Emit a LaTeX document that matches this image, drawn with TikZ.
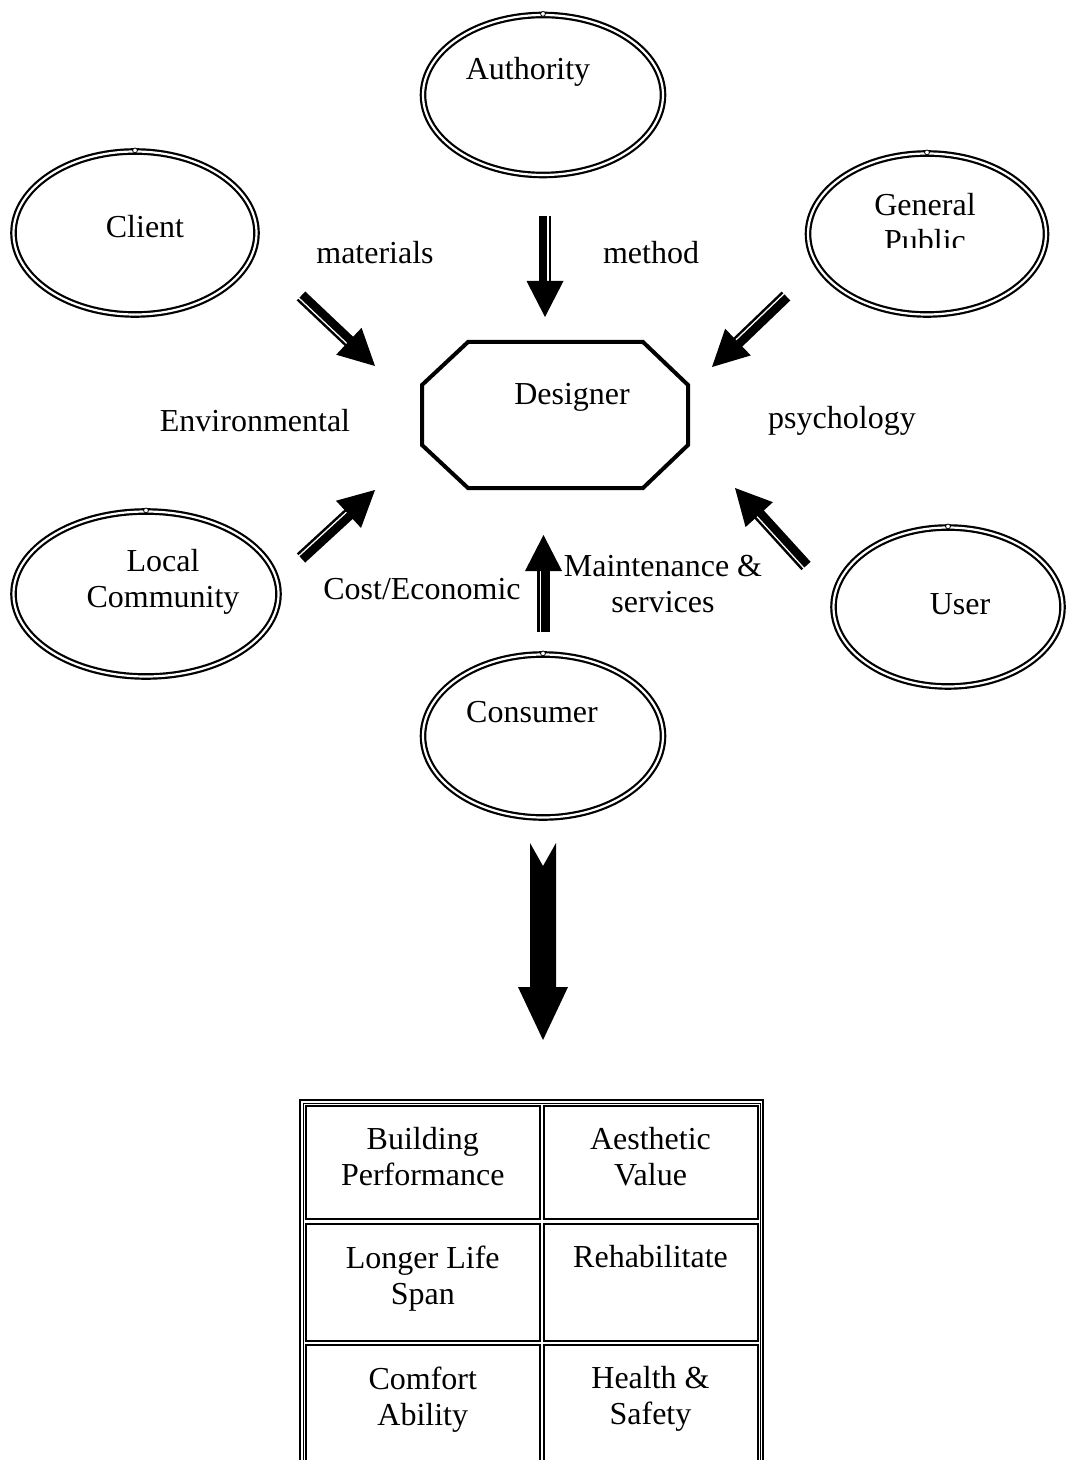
\documentclass[tikz,border=0pt]{standalone}
\usepackage{fontspec}
\setmainfont{Liberation Serif}
\usetikzlibrary{calc,positioning,shapes.geometric}

% shaft of a thick and a thin line, filled triangle head
% #3: side of the thin line, #4: side of the thick line
\newcommand{\dblarrow}[4]{%
  \coordinate (h) at ($(#2)!18pt!(#1)$);
  \coordinate (c) at ($(#2)!16pt!(#1)$);
  \draw[line width=4.2pt] ($(#1)!1pt!#4:(#2)$) -- ($(c)!1pt!#3:(#1)$);
  \draw[line width=1.2pt] ($(#1)!2.5pt!#3:(#2)$) -- ($(c)!2.5pt!#4:(#1)$);
  \fill (#2) -- ($(h)!9.25pt!90:(#2)$) -- ($(h)!9.25pt!-90:(#2)$) -- cycle;}

\begin{document}
\begin{tikzpicture}[x=0.5pt,y=-0.5pt,
	every node/.style={font=\fontsize{16}{18}\selectfont, align=center},
	ell/.style={ellipse, draw, double, line width=1.1pt, double distance=1.1pt, inner sep=0pt},
	cell/.style={draw, line width=1pt, inner sep=0pt}]
	\useasboundingbox (0,0) rectangle (1066,1460);

	% stakeholders
	\node[ell, minimum width=120pt, minimum height=80pt] (authority) at (543,95) {};
	\node[ell, minimum width=121.5pt, minimum height=81.5pt] (client) at (135,233) {};
	\node[ell, minimum width=119pt, minimum height=80.5pt] (public) at (927,234) {};
	\node[ell, minimum width=132.5pt, minimum height=82.5pt] (local) at (146,594) {};
	\node[ell, minimum width=114.5pt, minimum height=79.5pt] (user) at (948,607) {};
	\node[ell, minimum width=120pt, minimum height=81.5pt] (consumer) at (543,736) {};
	\foreach \n in {authority,client,public,local,user,consumer}
		\draw[fill=white, line width=0.4pt] (\n.north) circle (1.2pt);

	\node (authority-t) at (528,72) {Authority};
	\node (client-t) at (145,227) {Client};
	\begin{scope}
		\clip (850,170) rectangle (1000,248);
		\node (public-t) at (925,223) {General\\Public};
	\end{scope}
	\node (local-t) at (163,582) {Local\\Community};
	\node (user-t) at (960,604) {User};
	\node (consumer-t) at (532,712) {Consumer};

	% designer
	\draw[line width=2pt] (468,342) -- (643,342) -- (688,385) -- (688,445) -- (643,488)
		-- (468,488) -- (422,445) -- (422,385) -- cycle;
	\node (designer) at (572,397) {Designer};

	% factors
	\node (materials) at (375,253) {materials};
	\node (method) at (651,253) {method};
	\node (environ) at (255,421) {Environmental};
	\node (psych) at (842,421) {psychology};
	\node (cost) at (422,589) {Cost/Economic};
	\node (maint) at (663,584) {Maintenance \&\\services};

	% arrows into the designer
	\coordinate (a1) at (545,216); \coordinate (b1) at (545,317);
	\coordinate (a2) at (301,296); \coordinate (b2) at (375,366);
	\coordinate (a3) at (786,296); \coordinate (b3) at (712,367);
	\coordinate (a4) at (301,558); \coordinate (b4) at (375,490);
	\coordinate (a5) at (806,566); \coordinate (b5) at (735,488);
	\coordinate (a6) at (543.5,632); \coordinate (b6) at (543.5,535);
	\foreach \i/\t/\k in {1/90/-90, 2/-90/90, 3/-90/90, 4/90/-90, 5/90/-90, 6/90/-90}
		{\dblarrow{a\i}{b\i}{\t}{\k}}

	% big arrow down to the outcomes
	\fill (530,843) -- (543,866) -- (556,843) -- (556,987) -- (568,987) -- (543,1040)
		-- (518,987) -- (530,987) -- cycle;

	% outcome table
	\draw[line width=1.2pt] (300,1100) rectangle (763,1480);
	\draw[line width=0.5pt] (303,1103) rectangle (760,1480);
	\node[cell, minimum width=117.25pt, minimum height=56.75pt] (perf) at (422.75,1162.25) {};
	\node[cell, minimum width=107pt, minimum height=56.75pt] (aesth) at (650.5,1162.25) {};
	\node[cell, minimum width=117.25pt, minimum height=58.75pt] (life) at (422.75,1282.25) {};
	\node[cell, minimum width=107pt, minimum height=58.75pt] (rehab) at (650.5,1282.25) {};
	\node[cell, minimum width=117.25pt, minimum height=60pt] (comfort) at (422.75,1404.5) {};
	\node[cell, minimum width=107pt, minimum height=60pt] (health) at (650.5,1404.5) {};

	\node[below=8pt of perf.north, anchor=north] (perf-t) {Building\\Performance};
	\node[below=8pt of aesth.north, anchor=north] (aesth-t) {Aesthetic\\Value};
	\node[below=8pt of life.north, anchor=north] (life-t) {Longer Life\\Span};
	\node[below=8pt of rehab.north, anchor=north] (rehab-t) {Rehabilitate};
	\node[below=8pt of comfort.north, anchor=north] (comfort-t) {Comfort\\Ability};
	\node[below=8pt of health.north, anchor=north] (health-t) {Health \&\\Safety};
\end{tikzpicture}
\end{document}
